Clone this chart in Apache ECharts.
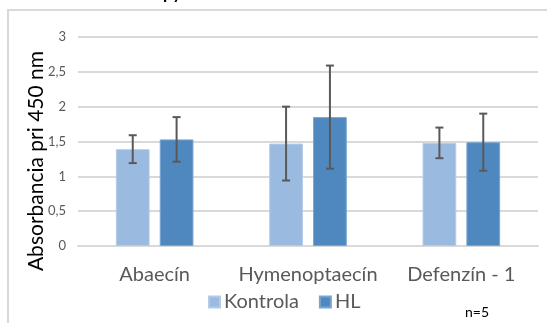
<!DOCTYPE html>
<html>
<head>
<meta charset="utf-8">
<script src="https://cdn.jsdelivr.net/npm/echarts@6/dist/echarts.min.js"></script>
<style>
  html, body { margin: 0; padding: 0; background: #ffffff; }
  #chart { width: 547px; height: 323px; }
</style>
</head>
<body>
<div id="chart"></div>
<script>
// Antimicrobial peptide absorbance at 450 nm, control vs. HL
const categories = ['Abaecín', 'Hymenoptaecín', 'Defenzín - 1'];
const seriesNames = ['Kontrola', 'HL'];
const kontrolaValues = [1.39, 1.47, 1.48];
const kontrolaErrors = [0.20, 0.53, 0.22];
const hlValues = [1.53, 1.85, 1.49];
const hlErrors = [0.32, 0.74, 0.41];
const yTicks = { min: 0, max: 3, interval: 0.5 };
const yTitle = 'Absorbancia pri 450 nm';

const FONT = 'Lato';
const BAR_WIDTH = 0.22;   // share of category width
const BAR_GAP = 0.30;     // share of bar width

function errorSeries(values, errors, index) {
  return {
    type: 'custom',
    name: seriesNames[index] + ' err',
    z: 5,
    silent: true,
    data: values.map((v, i) => [i, v, errors[i]]),
    renderItem: function (params, api) {
      const cat = api.value(0);
      const val = api.value(1);
      const err = api.value(2);
      const bandW = api.size([1, 0])[0];
      const w = bandW * BAR_WIDTH;
      const g = w * BAR_GAP;
      const shift = (index === 0 ? -1 : 1) * (w + g) / 2;
      const hi = api.coord([cat, val + err]);
      const lo = api.coord([cat, val - err]);
      const x = hi[0] + shift;
      const cap = 4;
      const style = { stroke: '#595959', lineWidth: 2 };
      return {
        type: 'group',
        children: [
          { type: 'line', shape: { x1: x, y1: hi[1], x2: x, y2: lo[1] }, style },
          { type: 'line', shape: { x1: x - cap, y1: hi[1], x2: x + cap, y2: hi[1] }, style },
          { type: 'line', shape: { x1: x - cap, y1: lo[1], x2: x + cap, y2: lo[1] }, style }
        ]
      };
    }
  };
}

const chart = echarts.init(document.getElementById('chart'));
chart.setOption({
  animation: false,
  backgroundColor: '#ffffff',
  grid: { left: 78, right: 9, top: 37, bottom: 77, containLabel: false },
  legend: {
    data: seriesNames,
    bottom: 6,
    left: 203,
    itemWidth: 11,
    itemHeight: 11,
    itemGap: 20,
    icon: 'rect',
    textStyle: { fontFamily: FONT, fontSize: 20, color: '#595959', padding: [0, 0, 0, -1] }
  },
  xAxis: {
    type: 'category',
    data: categories,
    axisLine: { lineStyle: { color: '#d9d9d9', width: 2 } },
    axisTick: { show: false },
    axisLabel: { fontFamily: FONT, fontSize: 20, color: '#595959', margin: 19, interval: 0 }
  },
  yAxis: {
    type: 'value',
    min: yTicks.min,
    max: yTicks.max,
    interval: yTicks.interval,
    axisLine: { show: false },
    axisTick: { show: false },
    splitLine: { lineStyle: { color: '#d9d9d9', width: 2 } },
    axisLabel: {
      fontFamily: FONT, fontSize: 13, color: '#595959', margin: 12,
      formatter: v => String(v).replace('.', ',')
    }
  },
  series: [
    {
      name: seriesNames[0], type: 'bar', data: kontrolaValues,
      barWidth: (BAR_WIDTH * 100) + '%', barGap: (BAR_GAP * 100) + '%',
      itemStyle: { color: '#9bbadf', borderColor: '#b3cbe8', borderWidth: 1 }
    },
    {
      name: seriesNames[1], type: 'bar', data: hlValues,
      barWidth: (BAR_WIDTH * 100) + '%', barGap: (BAR_GAP * 100) + '%',
      itemStyle: { color: '#4f88be', borderColor: '#79a5d0', borderWidth: 1 }
    },
    errorSeries(kontrolaValues, kontrolaErrors, 0),
    errorSeries(hlValues, hlErrors, 1)
  ],
  graphic: [
    // outer frame (left and top edges)
    { type: 'line', shape: { x1: 8, y1: 9, x2: 8, y2: 323 }, style: { stroke: '#d9d9d9', lineWidth: 2 } },
    { type: 'line', shape: { x1: 7, y1: 10, x2: 547, y2: 10 }, style: { stroke: '#d9d9d9', lineWidth: 2 } },
    // vertical axis title
    {
      type: 'text', x: 36, y: 161, rotation: Math.PI / 2,
      style: { text: yTitle, fontFamily: FONT, fontSize: 21, fill: '#000000', align: 'center', verticalAlign: 'middle' }
    },
    // sample size note
    { type: 'text', left: 465, top: 305, style: { text: 'n=5', fontFamily: FONT, fontSize: 14, fill: '#000000' } },
    // title text above the frame
    { type: 'text', left: 163, top: -15, style: { text: 'py', fontFamily: FONT, fontSize: 17, fontWeight: 'bold', fill: '#000000' } }
  ]
});
</script>
</body>
</html>
